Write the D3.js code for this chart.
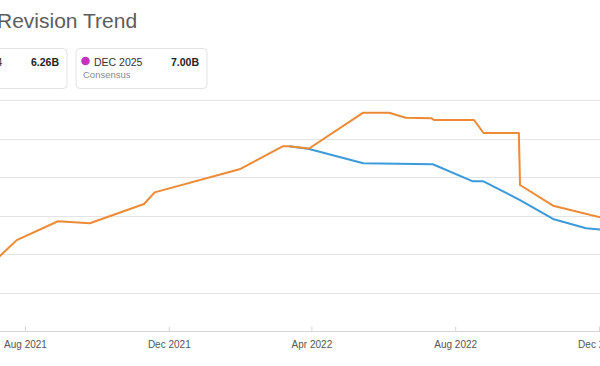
<!DOCTYPE html>
<html><head><meta charset="utf-8">
<script src="https://cdn.jsdelivr.net/npm/d3@7"></script>
<style>html,body{margin:0;padding:0;background:#fff;overflow:hidden}svg{display:block;font-family:"Liberation Sans",Arial,sans-serif}</style>
</head><body>
<script>
// ---- data ----
const title = "Revision Trend";
const legendLabels = ["DEC 2024", "DEC 2025"];
const legendValues = ["6.26B", "7.00B"];
const legendSub = ["Consensus", "Consensus"];
const legendColors = ["#ec8a35", "#c832c0"];
const xTickLabels = ["2021-08-01", "2021-12-01", "2022-04-01", "2022-08-01", "2022-12-01"];
const yTicks = [4.0, 4.5, 5.0, 5.5, 6.0, 6.5, 7.0];
const orangeDates = ["2021-07-07","2021-07-25","2021-08-29","2021-09-25","2021-11-10","2021-11-19","2022-01-30","2022-03-08","2022-03-13","2022-03-30","2022-05-15","2022-06-06","2022-06-20","2022-07-12","2022-07-14","2022-08-17","2022-08-25","2022-09-24","2022-09-25","2022-10-23","2022-12-02","2022-12-08"];
const orangeValues = [4.92,5.18,5.425,5.40,5.65,5.80,6.10,6.40,6.40,6.37,6.835,6.835,6.77,6.762,6.74,6.74,6.571,6.571,5.896,5.627,5.477,5.46];
const blueDates = ["2022-03-13","2022-03-30","2022-05-15","2022-07-13","2022-08-16","2022-08-25","2022-09-25","2022-10-23","2022-11-20","2022-12-02","2022-12-08"];
const blueValues = [6.40,6.364,6.178,6.165,5.944,5.944,5.70,5.455,5.334,5.318,5.31];

const W = 600, H = 366;
const parse = d3.utcParse("%Y-%m-%d");
const svg = d3.select("body").append("svg").attr("width", W).attr("height", H);

const x = d3.scaleUtc().domain([parse("2021-08-01"), parse("2022-12-01")]).range([25, 599]);
const y = d3.scaleLinear().domain([4.0, 7.0]).range([331, 100]);

// title
svg.append("text").attr("x", -3).attr("y", 28.3).attr("font-size", 21).attr("fill", "#5c5c5c").text(title);

// legend boxes
const boxX = [-64.5, 75.5];
legendLabels.forEach((lab, i) => {
  const g = svg.append("g").attr("transform", `translate(${boxX[i]},48.5)`);
  g.append("rect").attr("x", 0.5).attr("y", 0).attr("width", 131).attr("height", 40).attr("rx", 4)
    .attr("fill", "#fff").attr("stroke", "#e2e2e2");
  g.append("circle").attr("cx", 10).attr("cy", 12.5).attr("r", 4.3).attr("fill", legendColors[i]);
  g.append("text").attr("x", 18.5).attr("y", 17.5).attr("font-size", 10.5).attr("fill", "#333").text(lab);
  g.append("text").attr("x", 123.5).attr("y", 17.5).attr("font-size", 10.5).attr("font-weight", "bold").attr("fill", "#222").attr("text-anchor", "end").text(legendValues[i]);
  g.append("text").attr("x", 7.5).attr("y", 29.5).attr("font-size", 9.5).attr("fill", "#8a8a8a").text(legendSub[i]);
});

// gridlines
svg.append("g").selectAll("line").data(yTicks).join("line")
  .attr("x1", -100).attr("x2", W)
  .attr("y1", d => Math.round(y(d)) + 0.5).attr("y2", d => Math.round(y(d)) + 0.5)
  .attr("stroke", d => d === 4.0 ? "#d6d6d6" : "#e4e4e4").attr("stroke-width", 1);

// x axis
const xa = d3.axisBottom(x).tickValues(xTickLabels.map(parse)).tickFormat(d3.utcFormat("%b %Y")).tickSize(0).tickPadding(9);
const gx = svg.append("g").attr("transform", "translate(0,331.5)").call(xa);
gx.select(".domain").remove();
gx.selectAll(".tick text").attr("font-size", 10).attr("fill", "#555").attr("font-family", "Liberation Sans, Arial, sans-serif");
gx.selectAll(".tick").append("line").attr("y1", -5).attr("y2", 0).attr("stroke", "#d6d6d6");

// lines
const line = d3.line().x(d => x(d[0])).y(d => y(d[1])).curve(d3.curveLinear);
const orange = orangeDates.map((d, i) => [parse(d), orangeValues[i]]);
const blue = blueDates.map((d, i) => [parse(d), blueValues[i]]);
svg.append("path").datum(blue).attr("d", line).attr("fill", "none").attr("stroke", "#3b9ad9").attr("stroke-width", 2).attr("stroke-linejoin", "round");
svg.append("path").datum(orange).attr("d", line).attr("fill", "none").attr("stroke", "#ec8a35").attr("stroke-width", 2).attr("stroke-linejoin", "round");
</script>
</body></html>
